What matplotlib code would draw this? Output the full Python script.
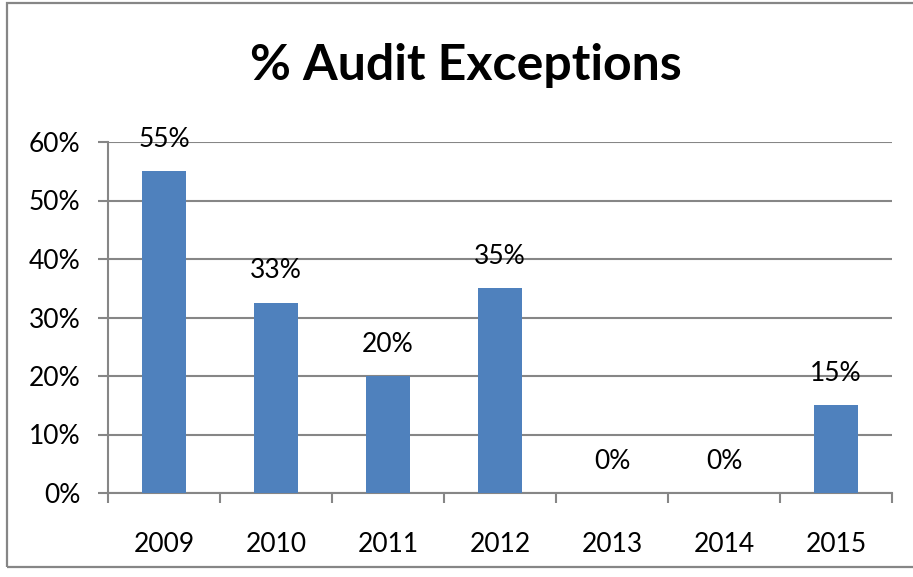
import matplotlib
matplotlib.use("Agg")
import matplotlib.pyplot as plt
from matplotlib.patches import Rectangle
import numpy as np

years = ["2009", "2010", "2011", "2012", "2013", "2014", "2015"]
values = [0.55, 0.325, 0.20, 0.35, 0.0, 0.0, 0.15]
value_labels = ["55%", "33%", "20%", "35%", "0%", "0%", "15%"]
y_ticks = [0.0, 0.1, 0.2, 0.3, 0.4, 0.5, 0.6]
y_tick_labels = ["0%", "10%", "20%", "30%", "40%", "50%", "60%"]
title = "% Audit Exceptions"

FONT = ["Lato", "DejaVu Sans"]
plt.rcParams['font.family'] = FONT
GRID = "#868686"
BAR = "#4F81BD"
FS = 19

W, H = 913, 577
fig = plt.figure(figsize=(W / 100, H / 100), dpi=100)

# outer chart border
fig.patches.append(Rectangle((7 / W, 1 - 567 / H), (W + 10 - 7) / W, (567 - 3) / H,
                             transform=fig.transFigure, fill=False,
                             edgecolor=GRID, linewidth=1.6, clip_on=False))

ax = fig.add_axes([108 / W, 1 - 493 / H, (892 - 108) / W, (493 - 142) / H])
x = np.arange(len(years))
bars = ax.bar(x, values, width=0.39, color=BAR, zorder=3)

ax.set_xlim(-0.5, len(years) - 0.5)
ax.set_ylim(0, 0.6)
ax.set_yticks(y_ticks)
ax.set_yticklabels(y_tick_labels, fontsize=FS)
ax.yaxis.grid(True, color=GRID, linewidth=1.5, zorder=0)

ax.set_xticks(x)
ax.set_xticklabels(years, fontsize=FS)
ax.tick_params(axis='x', length=0, pad=28)
ax.set_xticks(np.arange(len(years) + 1) - 0.5, minor=True)
ax.tick_params(axis='x', which='minor', length=7, width=1.5, color=GRID)
ax.tick_params(axis='y', length=7, width=1.5, color=GRID, pad=13)

for s in ["top", "right"]:
    ax.spines[s].set_visible(False)
for s in ["left", "bottom"]:
    ax.spines[s].set_color(GRID)
    ax.spines[s].set_linewidth(1.5)

for xi, v, lab in zip(x, values, value_labels):
    ax.annotate(lab, (xi, v), xytext=(0, 14), textcoords="offset points",
                ha="center", va="bottom", fontsize=FS, zorder=4)

fig.text(466 / W, 1 - 66 / H, title, ha="center", va="center",
         fontsize=36, fontweight="bold")

fig.savefig("out.png", dpi=100, facecolor="white")
